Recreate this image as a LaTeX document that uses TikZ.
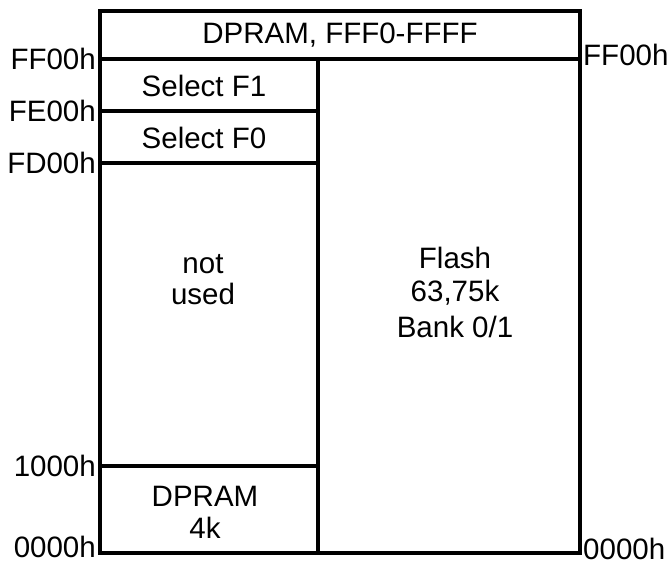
\documentclass[tikz,border=0pt]{standalone}
\usepackage{fontspec}
\setmainfont{Liberation Sans}
\begin{document}
\begin{tikzpicture}[x=1pt,y=-1pt,
  lbl/.style={inner sep=0pt, font=\fontsize{29.5}{34}\selectfont},
  wall/.style={line width=3.8pt, line cap=rect}]
\useasboundingbox (0,0) rectangle (670,565);
% outer frame and dividers
\coordinate (TL) at (100,11);
\coordinate (BR) at (580,553);
\draw[wall] (TL) rectangle (BR);
\draw[wall] (100,59) -- (580,59);
\draw[wall] (318,59) -- (318,553);
\draw[wall] (100,111) -- (318,111);
\draw[wall] (100,163) -- (318,163);
\draw[wall] (100,466) -- (318,466);
% region texts
\node[lbl] (top) at (340,35) {DPRAM, FFF0-FFFF};
\node[lbl] (sf1) at (204,86) {Select F1};
\node[lbl] (sf0) at (204,138) {Select F0};
\node[lbl] (nu1) at (203,264) {not};
\node[lbl] (nu2) at (203,294) {used};
\node[lbl] (fl1) at (455,258) {Flash};
\node[lbl] (fl2) at (455,293) {63,75k};
\node[lbl] (fl3) at (455,327) {Bank 0/1};
\node[lbl] (dp1) at (205,496) {DPRAM};
\node[lbl] (dp2) at (205,528) {4k};
% address labels
\node[lbl, anchor=east] (aFF) at (96,59) {FF00h};
\node[lbl, anchor=east] (aFE) at (96,111) {FE00h};
\node[lbl, anchor=east] (aFD) at (96,163) {FD00h};
\node[lbl, anchor=east] (a10) at (96,466) {1000h};
\node[lbl, anchor=east] (a00) at (96,547) {0000h};
\node[lbl, anchor=west] (rFF) at (583,55) {FF00h};
\node[lbl, anchor=west] (r00) at (583,549) {0000h};
\end{tikzpicture}
\end{document}
